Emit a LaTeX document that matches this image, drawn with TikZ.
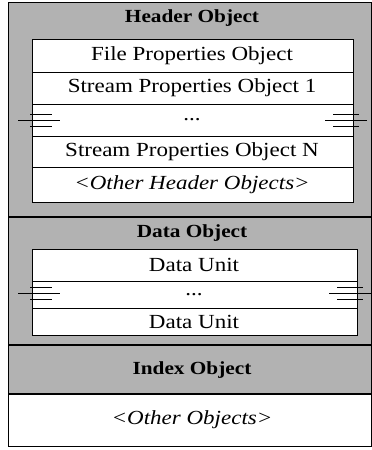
\documentclass[tikz,border=0pt]{standalone}
\usepackage{fontspec}
\setmainfont{Liberation Serif}[FakeStretch=1.15]
\begin{document}
\begin{tikzpicture}[x=1pt,y=-1pt,
  section/.style={draw=black,fill=black!30},
  rowbox/.style={draw=black,fill=white,inner sep=0pt},
  rowtext/.style={font=\fontsize{20}{22}\selectfont},
  titletext/.style={font=\fontsize{18.5}{22}\selectfont\bfseries}]
  \useasboundingbox (0,0) rectangle (372,450);
  % Sections
  \draw[section] (8,2) rectangle (371,217);
  \draw[section] (8,217) rectangle (371,345);
  \draw[section] (8,345) rectangle (371,394);
  \draw[fill=white] (8,394) rectangle (371,446);
  % Section separators
  \draw[line width=1.2pt] (8,217) -- (371,217);
  \draw[line width=1.2pt] (8,345) -- (371,345);
  \draw[line width=1.2pt] (8,394) -- (371,394);
  % Section titles
  \node[titletext] (header) at (192,18) {Header Object};
  \node[titletext] (data) at (192,233) {Data Object};
  \node[titletext] (index) at (192,370) {Index Object};
  \node[rowtext] (other) at (192,420) {\itshape <Other Objects>};
  % Header rows
  \draw[rowbox] (32,39) rectangle (353,202);
  \draw (32,72) -- (353,72);
  \draw (32,104) -- (353,104);
  \draw (32,136) -- (353,136);
  \draw (32,167) -- (353,167);
  \node[rowtext] (fileprop) at (192,56) {File Properties Object};
  \node[rowtext] (stream1) at (192,88) {Stream Properties Object 1};
  \node[rowtext] (hdots) at (192,120) {...};
  \node[rowtext] (streamN) at (192,152) {Stream Properties Object N};
  \node[rowtext] (otherhdr) at (192,185) {\itshape <Other Header Objects>};
  % Data rows
  \draw[rowbox] (32,249) rectangle (357,335);
  \draw (32,281) -- (357,281);
  \draw (32,308) -- (357,308);
  \node[rowtext] (unit1) at (194,265) {Data Unit};
  \node[rowtext] (ddots) at (194,295) {...};
  \node[rowtext] (unitN) at (194,322) {Data Unit};
  % Break marks
  \foreach \y/\xr in {120/353, 293/357} {
    \draw (30,\y-6) -- (52,\y-6);
    \draw (18,\y) -- (60,\y);
    \draw (30,\y+6) -- (52,\y+6);
    \draw (\xr-20,\y-6) -- (\xr+6,\y-6);
    \draw (\xr-28,\y) -- (\xr+14,\y);
    \draw (\xr-20,\y+6) -- (\xr+6,\y+6);
  }
\end{tikzpicture}
\end{document}
